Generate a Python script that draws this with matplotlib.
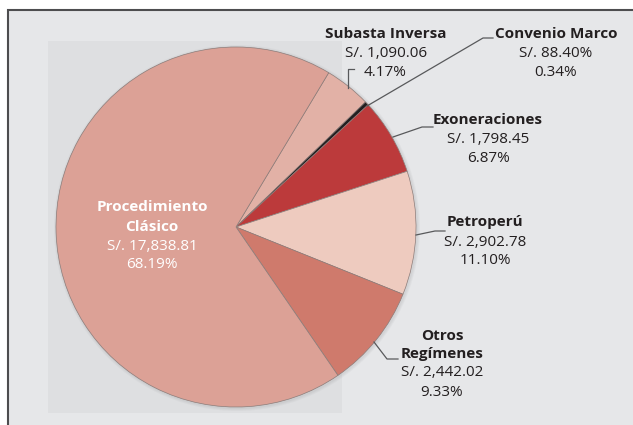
import matplotlib.pyplot as plt
from matplotlib.patches import Rectangle

# data
labels = ['Subasta Inversa', 'Convenio Marco', 'Exoneraciones', 'Petroperú',
          'Otros\nRegímenes', 'Procedimiento\nClásico']
amounts = ['S/. 1,090.06', 'S/. 88.40%', 'S/. 1,798.45', 'S/. 2,902.78',
           'S/. 2,442.02', 'S/. 17,838.81']
shares = [4.17, 0.34, 6.87, 11.10, 9.33, 68.19]
colors = ['#e2b1a6', '#231f20', '#bc3a3b', '#eecbbf', '#cf7a6c', '#dca196']

W, H = 633, 425
fig = plt.figure(figsize=(W / 100, H / 100), dpi=100)
fig.patch.set_facecolor('white')
ax = fig.add_axes([0, 0, 1, 1])

def Y(y):
    return H - y

# framed gray panel
ax.add_patch(Rectangle((8, Y(H + 20)), W + 20, H + 10, facecolor='#e6e7e9',
                       edgecolor='#4d4d4f', linewidth=1.5, zorder=0))
ax.add_patch(Rectangle((48, Y(413)), 294, 372, facecolor='#dedfe1',
                       edgecolor='none', zorder=0.5))

cx, cy, r = 236, Y(227), 180
# soft shadow under the pie
for k, a in enumerate([0.05, 0.05, 0.06]):
    ax.add_patch(plt.Circle((cx + 1, cy - 1), r + 3 - k, color='#6d6e71',
                            alpha=a, zorder=0.8, linewidth=0))

ax.pie(shares, colors=colors, startangle=59, counterclock=False,
       center=(cx, cy), radius=r, frame=True,
       wedgeprops=dict(edgecolor='#8c7c79', linewidth=0.5))
ax.set_xlim(0, W)
ax.set_ylim(0, H)
ax.set_aspect('auto')
ax.axis('off')

fam = ['Open Sans', 'DejaVu Sans']
fs = 11
dark = '#231f20'

def label(x, ys, name, amount, pct, color=dark, pct_x=None):
    lines = name.split('\n')
    i = 0
    for ln in lines:
        ax.text(x, Y(ys[i]), ln, ha='center', va='center', fontsize=fs,
                fontweight='bold', color=color, family=fam)
        i += 1
    ax.text(x, Y(ys[i]), amount, ha='center', va='center', fontsize=fs,
            color=color, family=fam)
    ax.text(x if pct_x is None else pct_x, Y(ys[i + 1]), f'{pct:.2f}%',
            ha='center', va='center', fontsize=fs, color=color, family=fam)

label(386, [34, 53, 72], labels[0], amounts[0], shares[0], pct_x=385)
label(556, [34, 53, 72], labels[1], amounts[1], shares[1])
label(488, [120, 139, 158], labels[2], amounts[2], shares[2])
label(485, [222, 242, 261], labels[3], amounts[3], shares[3])
label(442, [336, 354, 373, 392], labels[4], amounts[4], shares[4])
label(152, [207, 227, 246, 265], labels[5], amounts[5], shares[5], color='white')

# leader lines
lc = '#58595b'
leaders = [
    [(348, 88), (348, 69), (354, 69)],
    [(367, 106), (483, 38), (493, 38)],
    [(393, 137), (422, 127), (433, 127)],
    [(416, 235), (435, 231), (445, 231)],
    [(374, 342), (387, 359), (398, 359)],
]
for pts in leaders:
    ax.plot([p[0] for p in pts], [Y(p[1]) for p in pts], color=lc, lw=0.9,
            zorder=5)

fig.savefig('out.png', dpi=100)
